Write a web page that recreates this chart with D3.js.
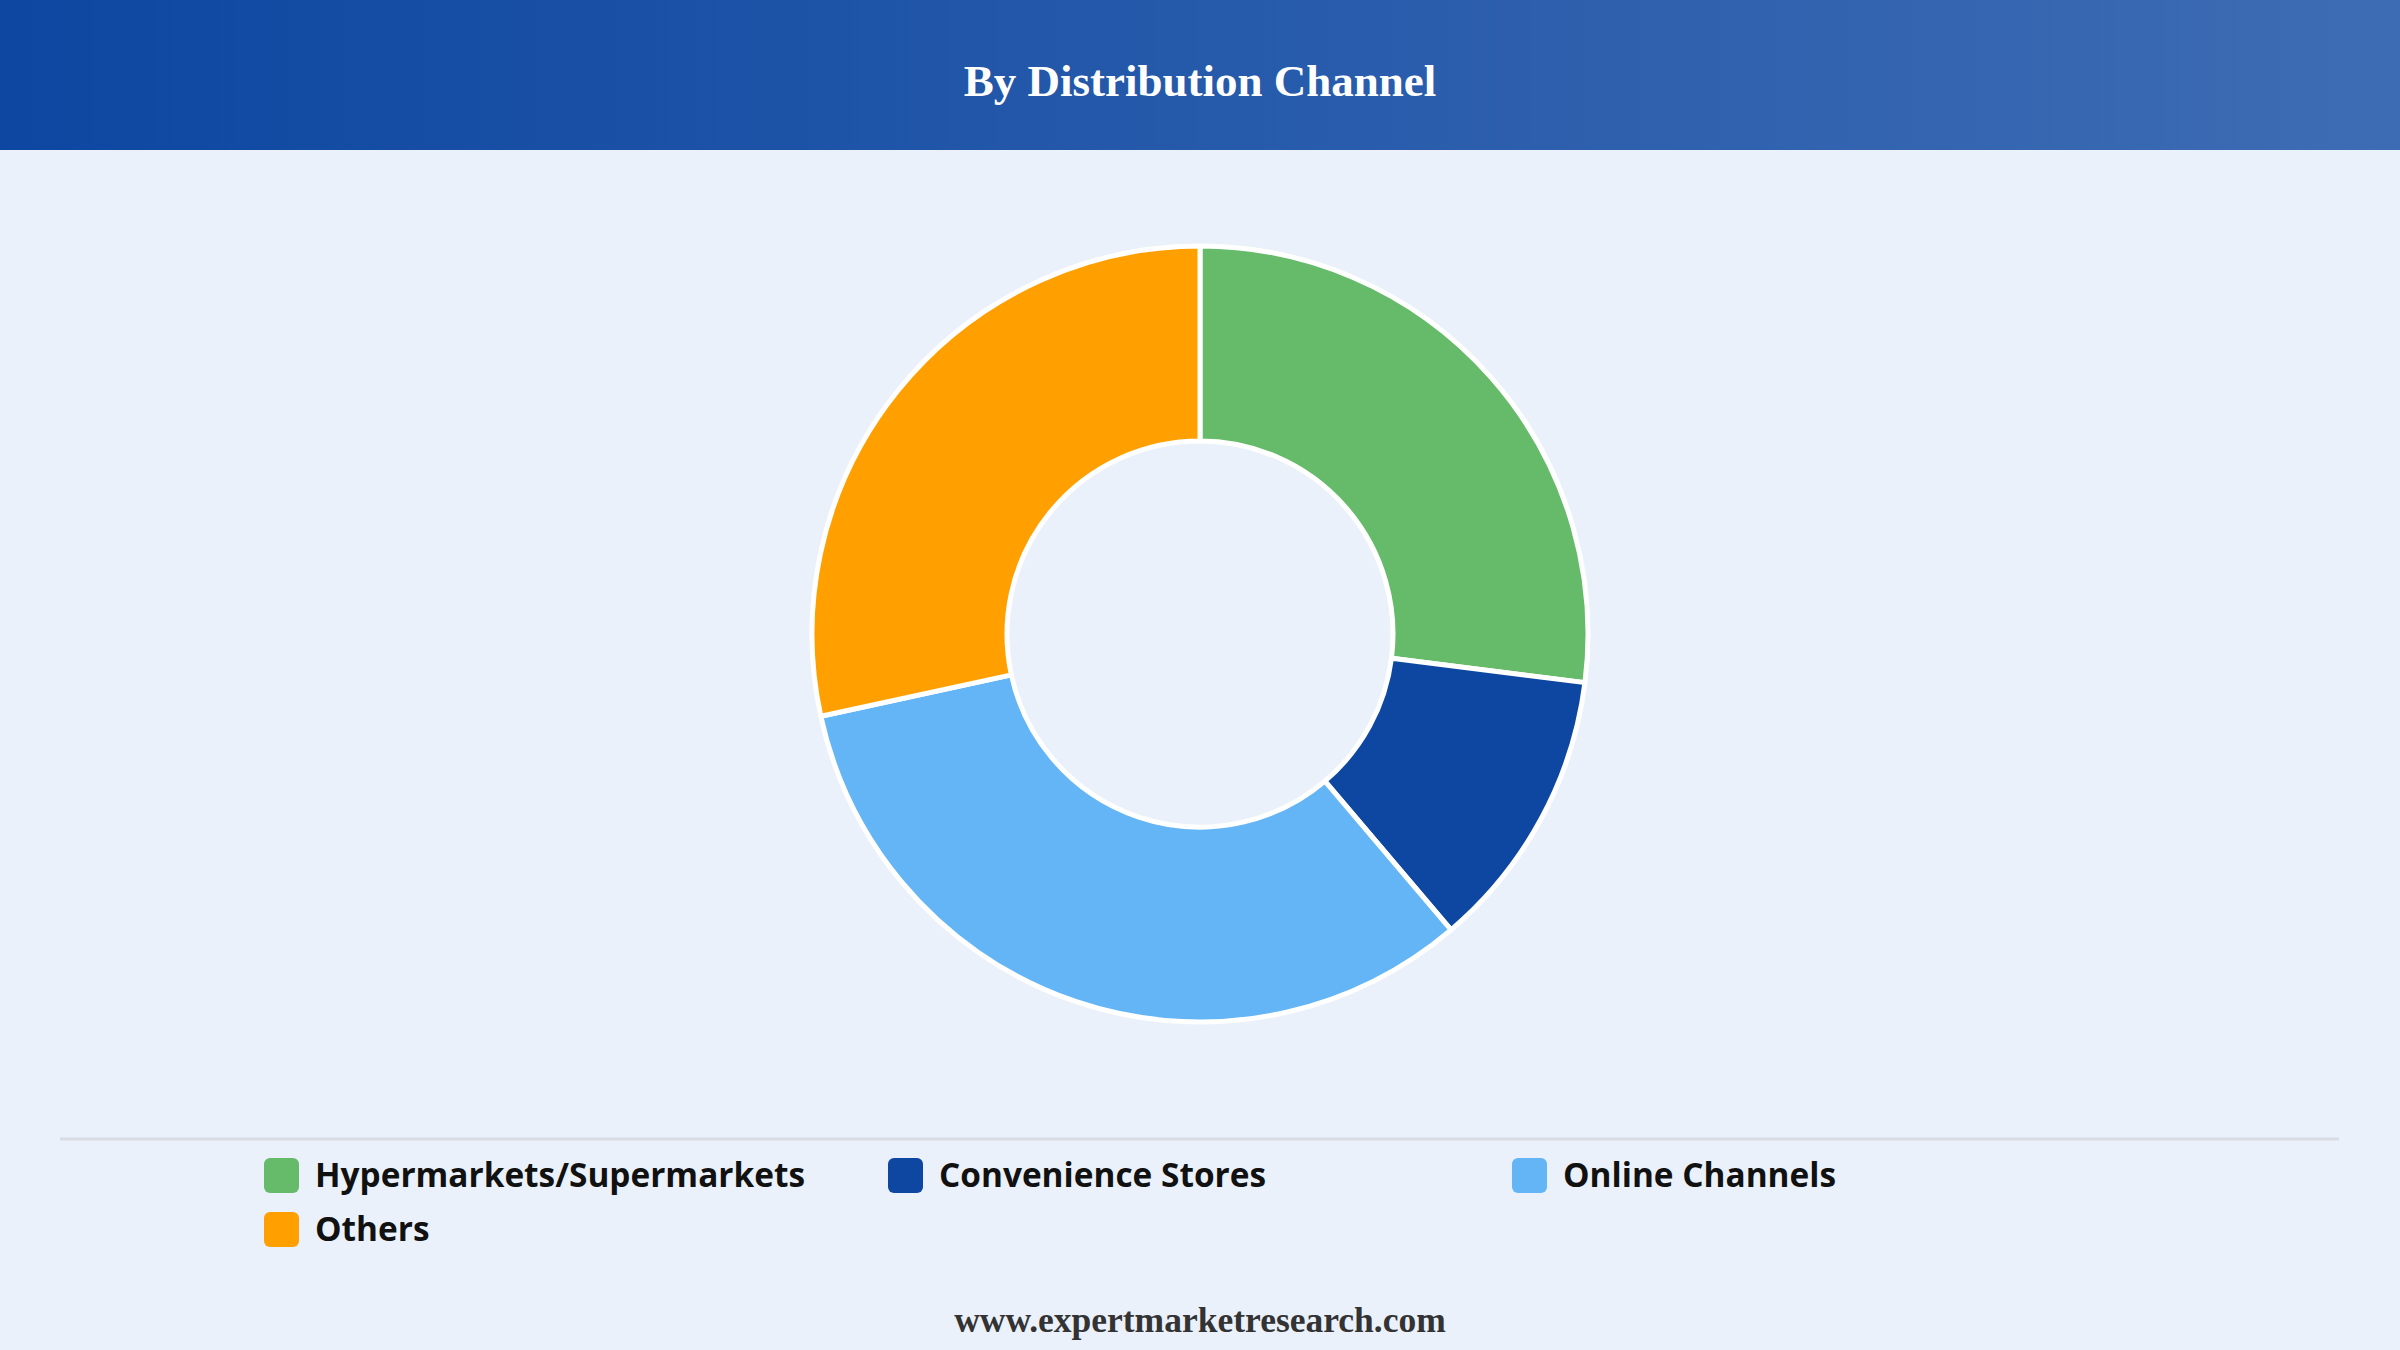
<!DOCTYPE html>
<html>
<head>
<meta charset="utf-8">
<script src="https://cdn.jsdelivr.net/npm/d3@7"></script>
<style>
  html, body { margin: 0; padding: 0; background: #eaf1fb; }
  svg { display: block; }
</style>
</head>
<body>
<svg id="chart" width="2400" height="1350"></svg>
<script>
const title = "By Distribution Channel";
const categories = ["Hypermarkets/Supermarkets", "Convenience Stores", "Online Channels", "Others"];
const values = [27.0, 11.8, 32.8, 28.4];
const colors = ["#66bb6a", "#0d47a1", "#64b5f6", "#ffa000"];
const footer = "www.expertmarketresearch.com";

const W = 2400, H = 1350;
const svg = d3.select("#chart");

const defs = svg.append("defs");
const grad = defs.append("linearGradient").attr("id", "hdr").attr("x1", "0%").attr("x2", "100%").attr("y1", "0%").attr("y2", "0%");
grad.append("stop").attr("offset", "0%").attr("stop-color", "#0d47a1");
grad.append("stop").attr("offset", "100%").attr("stop-color", "#3e6cb4");

svg.append("rect").attr("width", W).attr("height", H).attr("fill", "#eaf1fb");
svg.append("rect").attr("width", W).attr("height", 150).attr("fill", "url(#hdr)");
svg.append("text").attr("x", W / 2).attr("y", 96).attr("text-anchor", "middle")
  .attr("font-family", "'Liberation Serif', 'Times New Roman', serif").attr("font-weight", "bold")
  .attr("font-size", 45).attr("fill", "#ffffff").text(title);

const cx = 1200, cy = 634, rOuter = 388, rInner = 193;
const pie = d3.pie().sort(null).value(d => d.v);
const arc = d3.arc().innerRadius(rInner).outerRadius(rOuter);
const data = categories.map((c, i) => ({ c, v: values[i] }));
const color = d3.scaleOrdinal().domain(categories).range(colors);

svg.append("g").attr("transform", `translate(${cx},${cy})`)
  .selectAll("path").data(pie(data)).join("path")
  .attr("d", arc).attr("fill", d => color(d.data.c))
  .attr("stroke", "#ffffff").attr("stroke-width", 5).attr("stroke-linejoin", "round");

// divider
svg.append("line").attr("x1", 60).attr("x2", 2339).attr("y1", 1139).attr("y2", 1139)
  .attr("stroke", "#d9dde3").attr("stroke-width", 3);

// legend
const legX = d3.scalePoint().domain([0, 1, 2]).range([264, 1512]);
const leg = svg.append("g").selectAll("g").data(categories).join("g")
  .attr("transform", (d, i) => `translate(${legX(i % 3)},${1158 + Math.floor(i / 3) * 54})`);
leg.append("rect").attr("width", 35).attr("height", 35).attr("rx", 6).attr("fill", d => color(d));
leg.append("text").attr("x", 51).attr("y", 29)
  .attr("font-family", "'Open Sans', 'Noto Sans', sans-serif").attr("font-weight", "bold")
  .attr("font-size", 33.4).attr("fill", "#111111").text(d => d);

svg.append("text").attr("x", W / 2).attr("y", 1332).attr("text-anchor", "middle")
  .attr("font-family", "'Liberation Serif', 'Times New Roman', serif").attr("font-weight", "bold")
  .attr("font-size", 35.5).attr("fill", "#333333").text(footer);
</script>
</body>
</html>
